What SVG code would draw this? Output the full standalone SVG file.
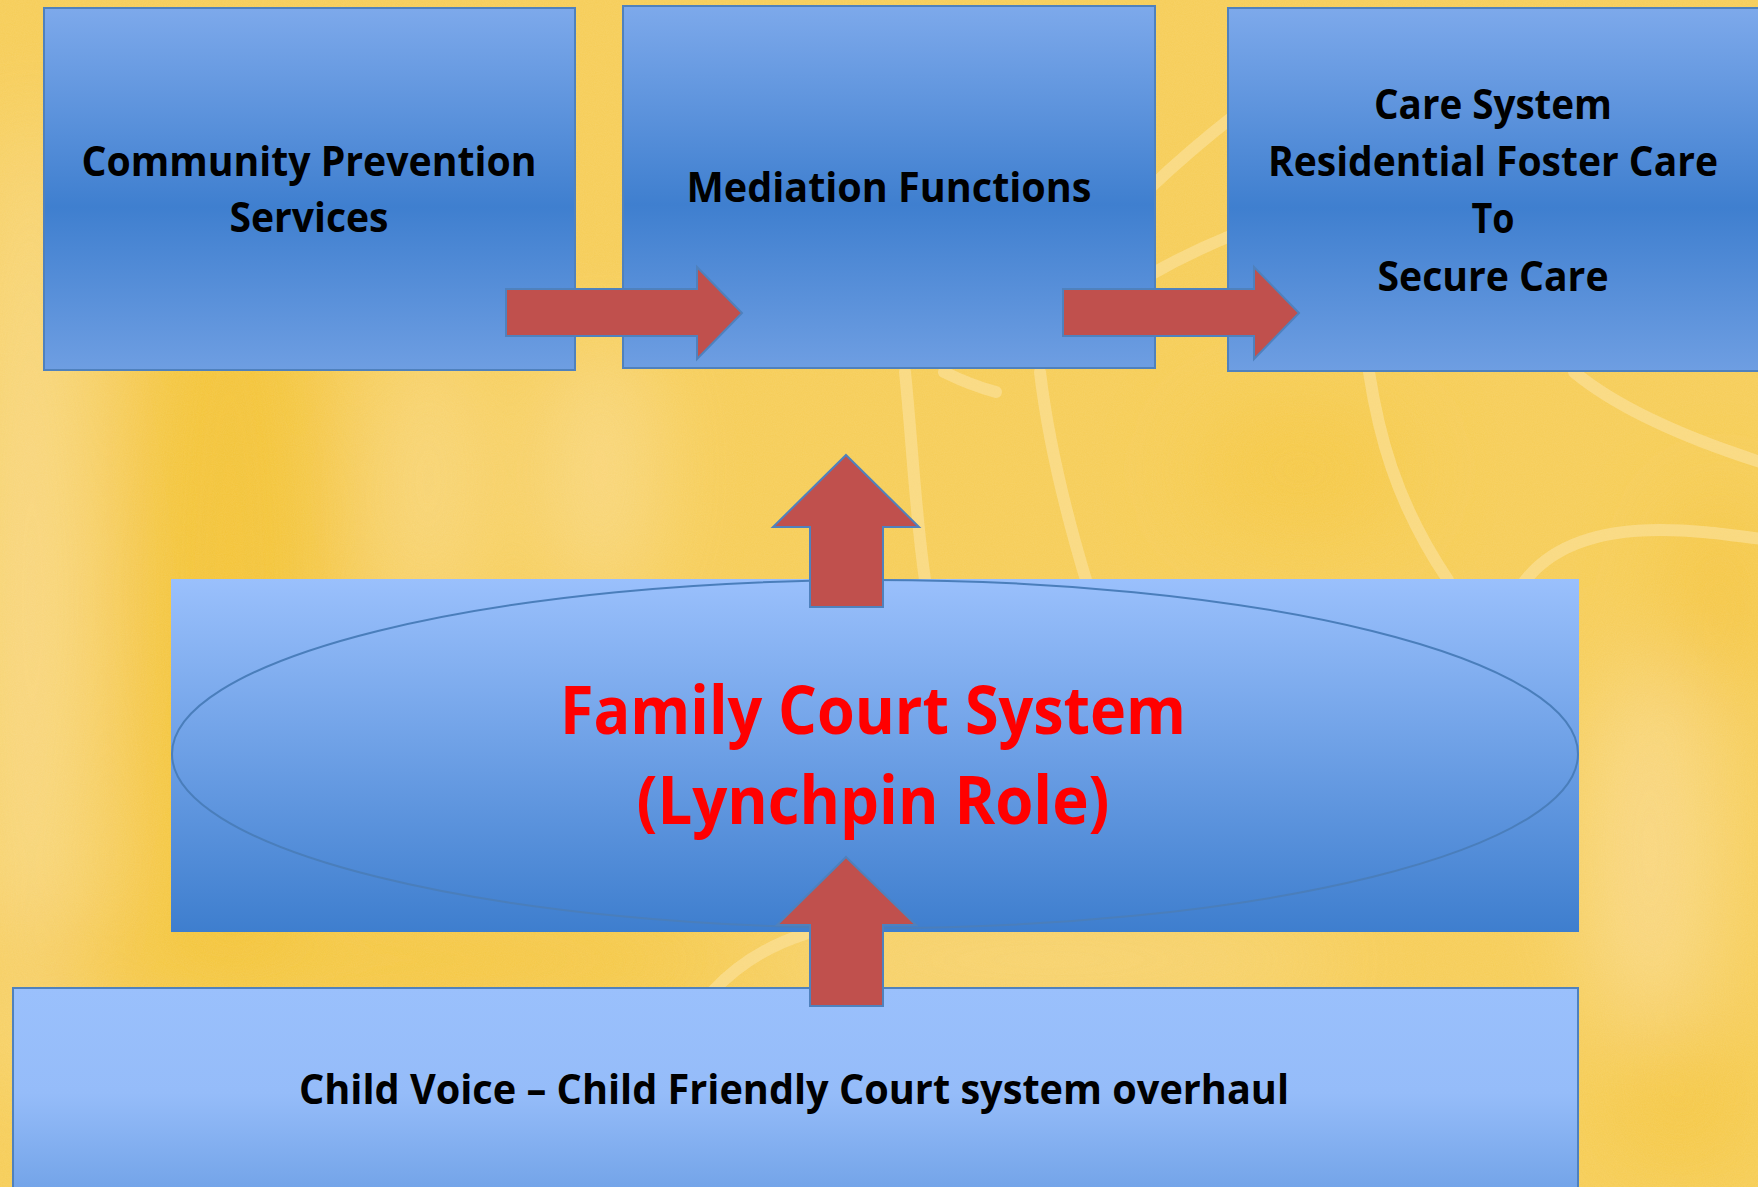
<svg xmlns="http://www.w3.org/2000/svg" width="1758" height="1187" viewBox="0 0 1758 1187">
<defs>
  <linearGradient id="gTop" x1="0" y1="0" x2="0" y2="1">
    <stop offset="0" stop-color="#7DA9EB"/>
    <stop offset="0.55" stop-color="#3F7FCF"/>
    <stop offset="1" stop-color="#6E9EE2"/>
  </linearGradient>
  <linearGradient id="gBig" gradientUnits="userSpaceOnUse" x1="0" y1="579" x2="0" y2="932">
    <stop offset="0" stop-color="#9AC0FC"/>
    <stop offset="1" stop-color="#3E7ECE"/>
  </linearGradient>
  <linearGradient id="gBottom" gradientUnits="userSpaceOnUse" x1="0" y1="988" x2="0" y2="1340">
    <stop offset="0" stop-color="#9AC0FC"/>
    <stop offset="0.3" stop-color="#95BCF9"/>
    <stop offset="1" stop-color="#3E7ECE"/>
  </linearGradient>
  <filter id="blur" x="-50%" y="-50%" width="200%" height="200%">
    <feGaussianBlur stdDeviation="45"/>
  </filter>
  <filter id="noise" x="0" y="0" width="100%" height="100%">
    <feTurbulence type="fractalNoise" baseFrequency="0.9" numOctaves="2" seed="3"/>
    <feColorMatrix type="matrix" values="0 0 0 0 1  0 0 0 0 0.95  0 0 0 0 0.8  0 0 0 0.35 0"/>
  </filter>
  <style>
    .box { stroke: #4F81BD; stroke-width: 2; }
    .lbl { font-family: "Open Sans", "Liberation Sans", Arial, sans-serif; font-weight: 700; font-size: 42px; fill: #000000; text-anchor: middle; }
    .red { font-family: "Open Sans", "Liberation Sans", Arial, sans-serif; font-weight: 700; font-size: 66px; fill: #FF0000; text-anchor: middle; }
    .arrow { fill: #C0504D; stroke: #4F81BD; stroke-width: 2; stroke-linejoin: miter; }
    .swirl { fill: none; stroke: #FCE3A0; stroke-width: 12; stroke-linecap: round; opacity: 0.6; }
  </style>
</defs>

<!-- background -->
<g id="background">
  <rect x="0" y="0" width="1758" height="1187" fill="#F6CD58"/>
  <g filter="url(#blur)" opacity="0.8">
    <ellipse cx="230" cy="600" rx="100" ry="420" fill="#F3C233"/>
    <ellipse cx="30" cy="600" rx="50" ry="500" fill="#F9DC94"/>
    <ellipse cx="430" cy="480" rx="45" ry="150" fill="#F9D989"/>
    <ellipse cx="600" cy="470" rx="55" ry="140" fill="#F9DA8C"/>
    <ellipse cx="350" cy="960" rx="380" ry="35" fill="#F3C233"/>
    <ellipse cx="1050" cy="960" rx="300" ry="35" fill="#F8D887"/>
    <ellipse cx="1650" cy="850" rx="70" ry="190" fill="#F9DA8E"/>
    <ellipse cx="1720" cy="600" rx="50" ry="110" fill="#F4C53C"/>
    <ellipse cx="1300" cy="470" rx="110" ry="70" fill="#F5C843"/>
    <ellipse cx="1680" cy="1100" rx="70" ry="70" fill="#F4C63E"/>
  </g>
  <rect x="0" y="0" width="1758" height="1187" filter="url(#noise)" opacity="0.3"/>
  <path class="swirl" d="M905,372 C912,440 915,510 925,580"/>
  <path class="swirl" d="M1040,372 C1048,440 1065,510 1086,580"/>
  <path class="swirl" d="M944,372 Q970,385 996,392"/>
  <path class="swirl" d="M1369,372 C1378,430 1394,500 1448,580"/>
  <path class="swirl" d="M1574,372 C1620,410 1690,440 1770,465"/>
  <path class="swirl" d="M1522,585 C1550,545 1600,530 1660,530 C1700,530 1730,535 1770,540"/>
  <path class="swirl" d="M1150,188 Q1190,150 1235,115"/>
  <path class="swirl" d="M1150,275 Q1190,252 1235,234"/>
  <path class="swirl" d="M712,992 C740,962 770,945 805,934"/>
</g>

<!-- nodes -->
<g id="node-community">
  <rect class="box" x="44" y="8" width="531" height="362" fill="url(#gTop)"/>
  <text class="lbl" x="309" y="176" textLength="455" lengthAdjust="spacingAndGlyphs">Community Prevention</text>
  <text class="lbl" x="309" y="232" textLength="159" lengthAdjust="spacingAndGlyphs">Services</text>
</g>

<g id="node-mediation">
  <rect class="box" x="623" y="6" width="532" height="362" fill="url(#gTop)"/>
  <text class="lbl" x="889" y="202" textLength="405" lengthAdjust="spacingAndGlyphs">Mediation Functions</text>
</g>

<g id="node-care">
  <rect class="box" x="1228" y="8" width="531" height="363" fill="url(#gTop)"/>
  <text class="lbl" x="1493" y="119" textLength="238" lengthAdjust="spacingAndGlyphs">Care System</text>
  <text class="lbl" x="1493" y="176" textLength="450" lengthAdjust="spacingAndGlyphs">Residential Foster Care</text>
  <text class="lbl" x="1493" y="233" textLength="43" lengthAdjust="spacingAndGlyphs">To</text>
  <text class="lbl" x="1493" y="291" textLength="231" lengthAdjust="spacingAndGlyphs">Secure Care</text>
</g>

<g id="node-family-court">
  <rect x="171" y="579" width="1408" height="353" fill="url(#gBig)"/>
  <ellipse cx="875" cy="754" rx="703" ry="174" fill="url(#gBig)" stroke="#4A7EBB" stroke-width="2"/>
  <text class="red" x="873" y="734" textLength="626" lengthAdjust="spacingAndGlyphs">Family Court System</text>
  <text class="red" x="873" y="824" textLength="473" lengthAdjust="spacingAndGlyphs">(Lynchpin Role)</text>
</g>

<g id="node-child-voice">
  <rect class="box" x="13" y="988" width="1565" height="220" fill="url(#gBottom)"/>
  <text class="lbl" x="794" y="1104" textLength="990" lengthAdjust="spacingAndGlyphs">Child Voice – Child Friendly Court system overhaul</text>
</g>

<!-- connectors -->
<g id="connectors">
  <polygon class="arrow" points="506,289 697,289 697,267 742,313 697,359 697,336 506,336"/>
  <polygon class="arrow" points="1063,289 1254,289 1254,267 1299,313 1254,359 1254,336 1063,336"/>
  <polygon class="arrow" points="846,455 919,527 883,527 883,607 810,607 810,527 773,527"/>
  <polygon class="arrow" points="846,857 916,925 883,925 883,1006 810,1006 810,925 777,925"/>
</g>
</svg>
